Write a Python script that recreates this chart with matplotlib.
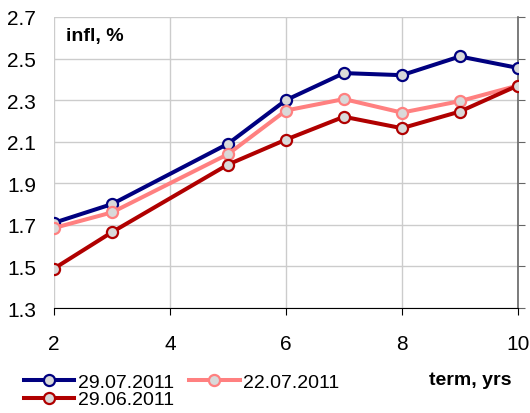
import matplotlib.pyplot as plt

term = [2, 3, 5, 6, 7, 8, 9, 10]
infl_2907 = [1.71, 1.80, 2.09, 2.30, 2.43, 2.42, 2.51, 2.455]
infl_2207 = [1.685, 1.76, 2.04, 2.25, 2.305, 2.24, 2.295, 2.37]
infl_2906 = [1.49, 1.665, 1.99, 2.11, 2.22, 2.165, 2.245, 2.37]
labels = ['29.07.2011', '22.07.2011', '29.06.2011']
yticks = [1.3, 1.5, 1.7, 1.9, 2.1, 2.3, 2.5, 2.7]
xticks = [2, 4, 6, 8, 10]

plt.rcParams['font.family'] = ['Liberation Sans', 'DejaVu Sans']

fig = plt.figure(figsize=(5.3, 4.14), dpi=100)
ax = fig.add_axes([0.102, 0.2536, 0.875, 0.703])

style = dict(lw=2.9, marker='o', ms=8, mew=1.6, mfc='#d9d9d9')
l1, = ax.plot(term, infl_2907, color='#000080', label=labels[0], zorder=3, **style)
l2, = ax.plot(term, infl_2207, color='#ff8080', label=labels[1], zorder=4, **style)
l3, = ax.plot(term, infl_2906, color='#b00000', label=labels[2], zorder=5, **style)

ax.set_xlim(2, 10)
ax.set_ylim(1.3, 2.7)
ax.set_xticks(xticks)
ax.set_yticks(yticks)
ax.set_yticklabels(['%.1f' % v for v in yticks])
ax.grid(True, color='#cccccc', lw=1)
ax.set_axisbelow(True)

for s in ['left', 'top']:
    ax.spines[s].set_visible(False)
ax.spines['bottom'].set_color('black')
ax.spines['right'].set_color('#666666')
ax.spines['right'].set_linewidth(1.2)

ax.tick_params(axis='y', left=False, right=True, labelleft=True, labelright=False,
               length=5, color='#666666', labelsize=15, pad=8)
ax.tick_params(axis='x', length=5, labelsize=15, pad=14)

ax.text(0.025, 0.965, 'infl, %', transform=ax.transAxes, fontsize=14,
        fontweight='bold', va='top', ha='left')
fig.text(0.966, 0.08, 'term, yrs', fontsize=14, fontweight='bold', ha='right', va='center')

fig.legend([l1, l3, l2], [labels[0], labels[2], labels[1]], ncol=2,
           loc='upper left', bbox_to_anchor=(0.045, 0.096), frameon=False,
           fontsize=14, handlelength=2.6, handletextpad=0.2, columnspacing=0.75,
           labelspacing=0.0, borderpad=0, borderaxespad=0)

fig.savefig('out.png', dpi=100)
